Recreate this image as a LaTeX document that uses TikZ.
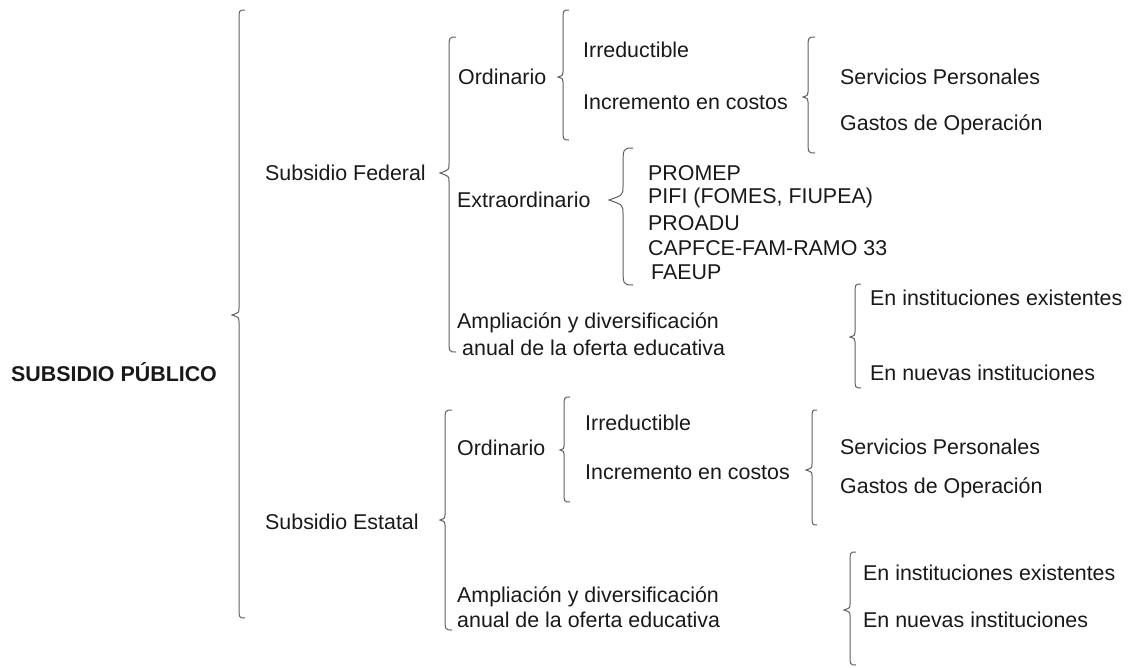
\documentclass[tikz,border=0pt]{standalone}
\usepackage{fontspec}
\setmainfont{Liberation Sans}
\definecolor{inkc}{RGB}{25,25,25}
\definecolor{bracec}{RGB}{95,95,95}
% left curly brace: x of the stem, top, tip, bottom, tip depth, curl width
\newcommand\leftcurl[6]{%
  \draw[bracebar] ({#1+#6},{#2}) .. controls ({#1},{#2}) .. ({#1},{#2+2*#6})
    -- ({#1},{#3-#5}) .. controls ({#1},{#3-0.35*#5}) .. ({#1-#5},{#3})
    .. controls ({#1},{#3+0.35*#5}) .. ({#1},{#3+#5})
    -- ({#1},{#4-2*#6}) .. controls ({#1},{#4}) .. ({#1+#6},{#4});}
\begin{document}
\begin{tikzpicture}[x=1pt,y=-1pt,
  lbl/.style={anchor=west,inner sep=0pt,text=inkc,font=\fontsize{21.4}{25}\selectfont},
  bracebar/.style={draw=bracec,line width=1pt}]
\useasboundingbox (0,0) rectangle (1129,667);

% root
\node[lbl,font=\fontsize{21.4}{25}\selectfont\bfseries] (root) at (11,372) {SUBSIDIO PÚBLICO};
\leftcurl{239}{10}{315}{618}{7}{6}

% federal branch
\node[lbl] (fed) at (265,173) {Subsidio Federal};
\leftcurl{449}{37}{173}{352}{9}{7}

\node[lbl] (fedord) at (458,77) {Ordinario};
\leftcurl{563}{10}{77}{140}{5}{6}
\node[lbl] (fedirr) at (583,50) {Irreductible};
\node[lbl] (fedinc) at (583,102) {Incremento en costos};
\leftcurl{808}{37}{97}{153}{5}{7}
\node[lbl] (fedsp) at (840,77) {Servicios Personales};
\node[lbl] (fedgo) at (840,125) {Gastos de Operación};

\node[lbl] (fedext) at (457,200) {Extraordinario};
\leftcurl{623}{148}{200}{285}{14}{10}
\node[lbl] (promep) at (648,173) {PROMEP};
\node[lbl] (pifi) at (648,198) {PIFI (FOMES, FIUPEA)};
\node[lbl] (proadu) at (648,223) {PROADU};
\node[lbl] (capfce) at (648,248) {CAPFCE-FAM-RAMO 33};
\node[lbl] (faeup) at (651,272) {FAEUP};

\node[lbl] (fedamp1) at (457,323) {Ampliación y diversificación};
\node[lbl] (fedamp2) at (462,348) {anual de la oferta educativa};
\leftcurl{855}{284}{337}{388}{5}{6}
\node[lbl] (fedexi) at (870,298) {En instituciones existentes};
\node[lbl] (fednue) at (870,373) {En nuevas instituciones};

% state branch
\node[lbl] (est) at (265,522) {Subsidio Estatal};
\leftcurl{445}{410}{520}{630}{5}{7}

\node[lbl] (estord) at (457,448) {Ordinario};
\leftcurl{564}{397}{450}{502}{4}{6}
\node[lbl] (estirr) at (585,423) {Irreductible};
\node[lbl] (estinc) at (585,472) {Incremento en costos};
\leftcurl{812}{410}{470}{525}{6}{5}
\node[lbl] (estsp) at (840,447) {Servicios Personales};
\node[lbl] (estgo) at (840,488) {Gastos de Operación};

\node[lbl] (estamp1) at (457,597) {Ampliación y diversificación};
\node[lbl] (estamp2) at (457,620) {anual de la oferta educativa};
\leftcurl{850}{552}{610}{665}{6}{6}
\node[lbl] (estexi) at (863,573) {En instituciones existentes};
\node[lbl] (estnue) at (863,620) {En nuevas instituciones};
\end{tikzpicture}
\end{document}
